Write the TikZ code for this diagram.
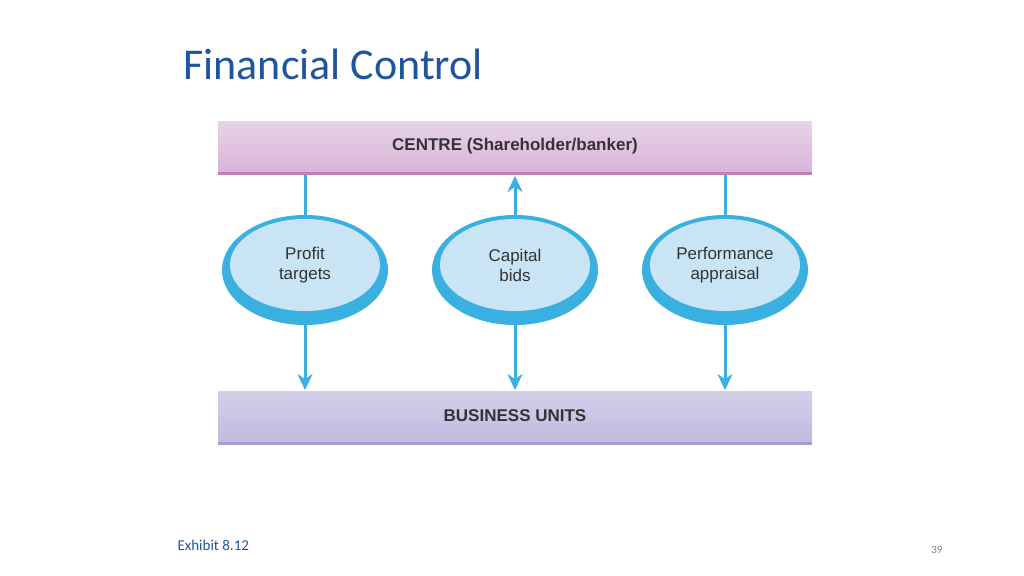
\documentclass[tikz,border=0pt]{standalone}
\usepackage{fontspec}
\setmainfont{Liberation Sans}
\newfontfamily\titlefont{Carlito}
\usetikzlibrary{arrows.meta,shapes.geometric}
\definecolor{titleblue}{HTML}{1F55A0}
\definecolor{arrowc}{HTML}{3AB0E0}
\definecolor{pinkbar}{HTML}{D8B6D8}
\definecolor{pinkedge}{HTML}{C27FB5}
\definecolor{lavbar}{HTML}{C3BAE0}
\definecolor{lavedge}{HTML}{A79BD0}
\definecolor{ellin}{HTML}{C9E5F5}
\definecolor{txt}{HTML}{333333}
\tikzset{
 bar/.style={minimum width=594pt,minimum height=54pt,inner sep=0pt,font=\bfseries\fontsize{17}{20}\selectfont,text=txt},
 ellout/.style={ellipse,fill=arrowc,minimum width=166pt,minimum height=110pt,inner sep=0pt},
 ellin/.style={ellipse,fill=ellin,minimum width=150pt,minimum height=92pt,inner sep=0pt,align=center,font=\fontsize{17}{20}\selectfont,text=txt},
 arr/.style={draw=arrowc,line width=3pt,-{Stealth[length=16pt,width=15pt]}},
 ln/.style={draw=arrowc,line width=3pt},
}
\begin{document}
\begin{tikzpicture}[x=1pt,y=-1pt]
\useasboundingbox[fill=white] (0,0) rectangle (1024,575);
\node[anchor=base west,text=titleblue,font=\titlefont\fontsize{44}{50}\selectfont] (title) at (180,80) {Financial Control};
\fill[pinkedge] (218,121) rectangle (812,175);
\node[bar,top color=pinkbar!60!white,bottom color=pinkbar,minimum height=50pt] (centre) at (515,146) {CENTRE (Shareholder/banker)};
\fill[lavedge] (218,392) rectangle (812,445);
\node[bar,top color=lavbar!70!white,bottom color=lavbar,minimum height=50pt] (bu) at (515,416) {BUSINESS UNITS};
\foreach \n/\x/\t in {a/305/{Profit\\targets},b/515/{Capital\\bids},c/725/{Performance\\appraisal}}{
 \node[ellout] (o\n) at (\x,270) {};
 \node[ellin] (i\n) at (\x,265) {\t};
}
\coordinate (ta) at (305,175); \coordinate (tc) at (725,175); \coordinate (tb) at (515,176);
\coordinate (ba) at (305,390); \coordinate (bb) at (515,390); \coordinate (bc) at (725,390);
\draw[ln] (ta) -- (oa.north);
\draw[ln] (tc) -- (oc.north);
\draw[arr] (ob.north) -- (tb);
\draw[arr] (oa.south) -- (ba);
\draw[arr] (ob.south) -- (bb);
\draw[arr] (oc.south) -- (bc);
\node[anchor=base west,text=titleblue,font=\titlefont\fontsize{15}{18}\selectfont] (ex) at (174,550) {Exhibit 8.12};
\node[anchor=base east,text=gray,font=\titlefont\fontsize{11}{13}\selectfont] (pg) at (946,553) {39};
\end{tikzpicture}
\end{document}
